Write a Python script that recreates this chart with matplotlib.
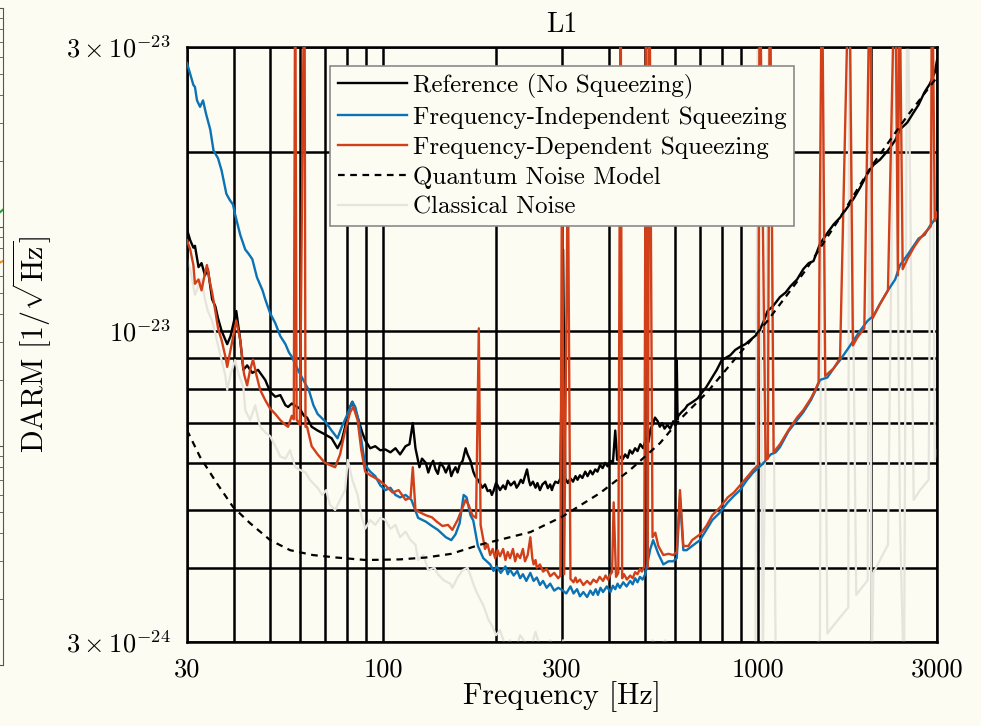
import matplotlib
matplotlib.use("Agg")
import matplotlib.pyplot as plt
from matplotlib.ticker import NullFormatter, FixedLocator

plt.rcParams['font.family'] = ['cmr10', 'DejaVu Serif']
plt.rcParams['mathtext.fontset'] = 'cm'
plt.rcParams['axes.formatter.use_mathtext'] = True

SCALE = 1e-24  # amplitudes below are in units of 1e-24 1/sqrt(Hz)

# Reference (no squeezing)
ref_f = [30, 30.6, 31.2, 31.5, 32.2, 32.8, 33.5, 34.1, 35.0, 35.7,
         36.3, 37.1, 38.4, 39.2, 40.6, 41.6, 42.4, 43.4, 44.8, 46.4,
         48.5, 50.0, 51.6, 53.2, 54.9, 55.8, 57.1, 60.0, 61.5, 62.7,
         64.5, 66.9, 70.0, 72.9, 75.6, 77.6, 79.2, 81.2, 82.8, 84.3,
         86.0, 88.0, 89.6, 92.4, 95.3, 98.3, 101.4, 104.6, 107.9, 111,
         114.8, 117.6,
         120, 122, 125, 127, 130, 132, 134, 136, 138, 140,
         142, 145, 147, 150, 152, 154, 156, 158, 160, 163,
         166, 168, 171, 174, 176, 179, 181, 184, 187, 190,
         193, 195, 197, 200, 202, 205, 209, 212, 215, 219,
         224, 227, 230, 233, 236, 239, 242, 245, 247, 251,
         255, 258, 262, 266, 271, 275, 279, 282, 284, 288,
         293, 297, 302, 306, 311, 316, 321, 326, 330, 335,
         340, 346, 351, 357, 362, 368, 373, 379, 385, 391,
         397, 404, 410, 416, 421, 428, 435, 442, 449, 455,
         462, 470, 477, 485, 494, 502, 510, 517, 523, 531,
         540, 547, 555, 563, 573, 583, 594, 603, 607, 610,
         613, 625, 639, 648, 659, 670, 680, 690, 700,
         728, 750, 776, 800, 843, 869, 895, 925, 953, 1000,
         1030, 1060, 1095, 1144, 1184, 1222, 1270, 1320, 1365, 1405,
         1462, 1530, 1590, 1654, 1740, 1800, 1870, 1960, 2030, 2114,
         2220, 2320, 2390, 2500, 2600, 2680, 2780, 2870, 2960, 3000]
ref_a = [14.8, 14.2, 13.8, 13.9, 12.8, 13.0, 12.4, 12.7, 11.3, 11.0,
         10.5, 10.0, 9.5, 9.8, 10.8, 9.65, 8.6, 8.75, 8.5, 8.6,
         8.27, 7.9, 7.75, 7.8, 7.5, 7.45, 7.55, 7.4, 7.2, 7.15,
         6.9, 6.8, 6.7, 6.6, 6.35, 6.55, 6.9, 7.4, 7.6, 7.35,
         7.08, 6.75, 6.55, 6.35, 6.4, 6.3, 6.32, 6.25, 6.35, 6.2,
         6.4, 6.45,
         7.0, 6.35, 5.9, 6.1, 6.0, 5.78, 5.95, 6.05, 5.85, 5.75,
         6.0, 5.9, 5.78, 5.95, 5.7, 5.82, 5.9, 5.78, 5.95, 6.05,
         6.35, 6.2, 6.05, 5.8, 5.7, 5.62, 5.55, 5.45, 5.52, 5.38,
         5.4, 5.3, 5.38, 5.55, 5.5, 5.4, 5.5, 5.42, 5.6, 5.5,
         5.58, 5.45, 5.52, 5.62, 5.55, 5.7, 5.85, 5.6, 5.5, 5.58,
         5.45, 5.55, 5.4, 5.52, 5.58, 5.44, 5.52, 5.4, 5.48, 5.58,
         5.55, 5.65, 13.7, 5.65, 5.55, 5.65, 5.58, 5.7, 5.62, 5.72,
         5.66, 5.8, 5.7, 5.82, 5.74, 5.85, 5.8, 5.95, 5.88, 6.0,
         5.92, 6.05, 6.0, 6.8, 6.07, 6.15, 6.08, 6.2, 6.12, 6.3,
         6.22, 6.35, 6.28, 6.45, 6.35, 6.6, 6.5, 6.85, 6.95, 7.15,
         7.05, 6.9, 7.0, 6.85, 6.95, 6.85, 7.05, 6.95, 8.93, 7.1,
         7.2, 7.3, 7.4, 7.5, 7.55, 7.6, 7.65, 7.7, 7.8,
         8.05, 8.3, 8.6, 8.93, 9.1, 9.29, 9.4, 9.5, 9.65, 9.9,
         10.3, 10.8, 11.0, 11.4, 11.6, 11.9, 12.2, 12.7, 13.0, 13.1,
         14.0, 14.6, 15.1, 15.5, 16.2, 16.7, 17.4, 18.4, 19.0, 19.4,
         20.1, 20.9, 21.8, 22.4, 23.3, 24.0, 25.2, 26.0, 27.2, 28.5]

# Frequency-independent squeezing
fis_f = [30, 30.6, 31.2, 31.5, 31.9, 32.5, 33.1, 33.7, 34.6, 35.3,
         36.3, 37.1, 38.2, 39.0, 39.8, 40.3, 41.6, 42.9, 43.7, 44.8,
         46.1, 47.7, 48.5, 50, 51.6, 53.2, 54.9, 56.1, 57.1, 58.3,
         59.3, 61.7, 63.4, 65.2, 66.9, 70, 72.9, 75.6, 77.6, 80,
         82.8, 84.3, 86, 88, 89.6, 92.4, 95.3, 98.3, 101.4, 104.6,
         107.9, 111, 114.8, 119, 124, 130, 135, 140, 147, 152,
         156, 160, 164, 167, 171, 174, 179, 185,
         193, 197, 201, 206, 212, 215, 218, 223, 228, 232,
         236, 241, 247, 252, 257, 262, 267, 273, 279, 286,
         293, 300, 308, 316, 322, 329, 335, 342, 350, 357,
         363, 369, 374, 380, 386, 395, 404, 410, 416, 422,
         428, 437, 446, 456, 463, 470, 477, 484, 492, 500,
         516, 525, 542, 559, 577, 594, 607, 619, 632, 645,
         667, 700, 728, 755, 791, 830, 862, 895, 935, 970,
         1000, 1035, 1080, 1114, 1144, 1205, 1270, 1320, 1383, 1426,
         1462, 1530, 1590, 1654, 1740, 1800, 1870, 1960, 2030, 2114,
         2220, 2320, 2390, 2500, 2600, 2680, 2780, 2870, 2960, 3000]
fis_a = [28.2, 27.0, 25.9, 25.7, 24.4, 23.8, 24.4, 23.2, 21.8, 20.1,
         19.5, 18.6, 17.0, 16.6, 16.3, 15.7, 14.5, 13.7, 13.5, 13.2,
         12.3, 11.7, 11.3, 10.7, 10.3, 9.8, 9.5, 9.2, 9.05, 8.8,
         8.6, 8.2, 7.95, 7.5, 7.25, 7.05, 6.8, 6.6, 6.9, 7.2,
         7.6, 7.45, 7.08, 6.4, 5.95, 5.8, 5.7, 5.5, 5.4, 5.45,
         5.3, 5.25, 5.3, 5.2, 4.85, 4.78, 4.7, 4.63, 4.5, 4.45,
         4.55, 4.75, 5.3, 5.25, 4.9, 4.8, 4.35, 4.15,
         4.05, 3.95, 4.02, 3.92, 4.02, 3.9, 3.97, 3.88, 3.95, 3.84,
         3.9, 3.8, 3.92, 3.8, 3.85, 3.74, 3.8, 3.7, 3.76, 3.66,
         3.7, 3.67, 3.62, 3.72, 3.62, 3.68, 3.58, 3.64, 3.57, 3.66,
         3.6, 3.68, 3.6, 3.7, 3.64, 3.72, 3.64, 3.73, 3.68, 3.76,
         3.7, 3.78, 3.72, 3.8, 3.75, 3.84, 3.78, 3.86, 3.82, 3.9,
         4.3, 4.45, 4.22, 4.05, 4.1, 4.1, 4.15, 5.25, 4.28, 4.28,
         4.35, 4.45, 4.63, 4.81, 4.95, 5.15, 5.28, 5.4, 5.62, 5.78,
         5.88, 6.0, 6.2, 6.25, 6.38, 6.78, 7.08, 7.3, 7.65, 7.96,
         8.27, 8.35, 8.65, 8.93, 9.35, 9.65, 10.0, 10.4, 10.6, 11.1,
         11.7, 12.2, 12.9, 13.4, 13.9, 14.3, 14.5, 15.0, 15.4, 15.8]

# Frequency-dependent squeezing
fds_f = [30, 30.6, 31.2, 31.5, 32.2, 32.8, 33.5, 33.9, 34.6, 35.0,
         35.7, 36.3, 37.1, 37.9, 38.4, 39.2, 40.6, 41.6, 42.6, 43.4,
         44.2, 45.0, 45.9, 47.0, 48.5, 50, 51.6, 53.2, 54.9, 55.8,
         57.1, 57.8, 58.3, 58.8, 60, 61.7, 62.1, 62.7, 64.5, 66.9,
         70, 72.2, 74.5, 76.8, 79.2, 81.7, 83.3, 85.5, 87.5, 89.6,
         92.4, 97.2, 101.4, 106, 110, 114.8, 118.4, 120, 122, 125,
         130, 135, 139, 144, 149, 153, 158, 162, 166, 169,
         173, 177, 180, 182,
         187, 190, 193, 196, 199, 202, 205, 209, 212, 215,
         218, 222, 225, 228, 232, 236, 239, 243, 247, 250,
         252, 255, 257, 262, 267, 273, 279, 286, 293, 297,
         300, 304, 311, 316, 322, 326, 329, 335, 342, 350,
         357, 364, 371, 378, 386, 392, 398, 404, 408, 412,
         418, 424, 430, 434, 439, 447, 456, 463, 470, 477,
         484, 490, 497,
         503, 508, 513, 523, 532, 542, 559, 577, 594, 607,
         619, 632, 652, 667, 700, 728, 755, 791, 830, 862,
         895, 935, 970, 1000, 1010, 1047, 1062, 1075, 1100, 1144,
         1205, 1270, 1320, 1383, 1426, 1450, 1480, 1510, 1590, 1654,
         1750, 1790, 1840, 1920, 1990, 2020, 2114, 2220, 2320, 2360,
         2380, 2430, 2500, 2600, 2680, 2780, 2890, 2910, 2960, 3000]
fds_a = [14.2, 13.7, 12.9, 12.0, 12.2, 11.7, 12.5, 12.9, 12.0, 11.6,
         10.8, 10.1, 9.65, 9.1, 8.7, 9.29, 10.4, 9.65, 8.45, 8.1,
         8.6, 8.95, 8.45, 7.96, 7.65, 7.4, 7.25, 7.08, 6.95, 6.9,
         7.2, 7.1, 45, 7.1, 6.95, 45, 6.9, 6.9, 6.4, 6.2,
         6.0, 5.95, 5.9, 6.2, 6.8, 7.3, 7.45, 7.08, 6.3, 5.8,
         5.72, 5.62, 5.5, 5.35, 5.4, 5.2, 5.25, 5.9, 5.0, 4.96,
         4.9, 4.86, 4.78, 4.7, 4.72, 4.63, 4.81, 5.0, 5.2, 5.1,
         4.9, 4.85, 10.1, 4.72,
         4.3, 4.38, 4.2, 4.3, 4.15, 4.28, 4.18, 4.3, 4.12, 4.25,
         4.15, 4.3, 4.1, 4.22, 4.15, 4.3, 4.1, 4.2, 4.5, 4.15,
         4.05, 4.12, 4.0, 4.05, 3.94, 3.98, 3.87, 3.92, 3.84, 3.88,
         20, 3.9, 20, 3.83, 3.78, 3.85, 3.78, 3.82, 3.74, 3.8,
         3.75, 3.82, 3.78, 3.86, 3.8, 3.88, 3.82, 3.9, 3.93, 5.15,
         3.86, 3.92, 45, 3.84, 3.9, 3.82, 3.88, 3.84, 3.93, 3.9,
         3.98, 3.94, 4.02,
         45, 4.0, 45, 4.5, 4.58, 4.35, 4.2, 4.22, 4.2, 4.25,
         5.4, 4.35, 4.35, 4.45, 4.55, 4.7, 4.9, 5.05, 5.25, 5.35,
         5.5, 5.68, 5.84, 5.95, 45, 6.07, 6.1, 45, 6.25, 6.45,
         6.81, 7.15, 7.36, 7.7, 8.0, 8.2, 45, 8.4, 8.65, 9.0,
         45, 9.45, 9.75, 10.1, 45, 10.5, 11.1, 11.7, 45, 12.4,
         45, 12.7, 13.2, 13.8, 14.2, 14.6, 15.0, 45, 15.3, 15.8]

# Quantum noise model
qn_f = [30, 32.5, 36, 39.8, 44.2, 50, 56.5, 65, 75, 90,
        111, 130, 152, 181, 247, 300, 379, 456, 548, 619,
        728, 895, 1060, 1340, 1654, 2005, 2490, 2960, 3000]
qn_a = [6.81, 6.14, 5.55, 5.06, 4.75, 4.45, 4.28, 4.2, 4.16, 4.12,
        4.13, 4.16, 4.22, 4.37, 4.59, 4.87, 5.34, 5.84, 6.48, 7.1,
        7.86, 9.18, 10.4, 12.65, 15.5, 18.9, 22.9, 26.4, 26.8]

# Classical noise
cl_f = [30, 30.6, 31.5, 32.2, 32.8, 33.5, 34.1, 35.0, 35.7, 36.3,
        37.1, 37.9, 38.4, 39.2, 40.3, 41.2, 42.4, 42.9, 44.2, 45.6,
        47, 48.5, 50, 51.6, 53.2, 54.9, 56.5, 58.3, 60, 62.1,
        63.8, 65.9, 66.9, 68.8, 70.5, 72.2, 74.5, 76.8, 79.2, 80.5,
        82.8, 85.5, 87.5, 89.6, 92.4, 95.3, 98.3, 101.4, 104.6, 107.9,
        111, 114.8, 118.4, 122, 124, 128, 132, 137, 140, 145,
        151, 153, 158, 163, 168, 171, 175, 179, 185, 191,
        196, 200, 205, 212, 218, 225, 232, 239, 247, 255,
        262, 271, 279, 290, 297, 302, 312, 319, 331, 346,
        361, 379, 396, 412, 428, 450, 470, 484, 503, 523,
        542, 566, 590, 619, 652, 680, 723, 770, 817, 869,
        925, 984, 1000, 1030, 1075, 1114, 1184, 1260, 1340, 1400,
        1462, 1480, 1530, 1590, 1654, 1740, 1750, 1827, 1870, 1960,
        1990, 2005, 2030, 2114, 2220, 2320, 2390, 2450, 2500, 2600,
        2703, 2850, 2910, 2960, 3000]
cl_a = [13.2, 12.7, 11.5, 11.9, 12.2, 11.3, 10.8, 10.4, 9.9, 9.45,
        8.93, 8.45, 7.96, 8.45, 8.93, 8.45, 8.05, 7.36, 7.08, 7.5,
        6.9, 6.75, 6.65, 6.4, 6.15, 6.1, 6.3, 5.9, 5.84, 5.78,
        5.62, 5.5, 5.45, 5.3, 5.4, 5.1, 5.0, 5.2, 5.4, 6.07,
        5.62, 5.3, 4.9, 4.65, 4.81, 4.72, 4.85, 4.81, 4.65, 4.72,
        4.5, 4.6, 4.45, 4.37, 4.12, 4.2, 3.96, 4.0, 3.9, 3.81,
        3.76, 3.7, 3.85, 3.96, 4.0, 3.88, 3.72, 3.6, 3.46, 3.27,
        3.18, 3.08, 3.14, 2.95, 3.02, 2.9, 3.08, 3.0, 2.9, 3.12,
        2.95, 2.85, 3.02, 2.9, 2.5, 3.02, 2.5, 2.95, 2.88, 2.92,
        2.85, 2.9, 2.8, 2.95, 2.85, 2.8, 2.95, 2.85, 2.8, 3.02,
        2.93, 3.02, 2.85, 2.5, 2.8, 2.7, 2.75, 2.65, 2.72, 2.65,
        2.75, 2.8, 45, 2.75, 45, 2.85, 2.8, 2.9, 2.85, 2.95,
        3.02, 45, 3.1, 3.2, 3.3, 3.43, 45, 3.6, 3.67, 3.81,
        45, 2.5, 3.92, 4.12, 4.37, 45, 4.81, 2.5, 45, 5.2,
        5.4, 5.62, 45, 6.07, 6.3]

# fragment of the neighbouring panel at the left edge
side_x = [0.90, 0.95, 1.0]
side_green = [1.25e-22, 1.05e-22, 1.2e-22]
side_orange = [7.5e-23, 6.4e-23, 7.0e-23]

labels = ['Reference (No Squeezing)', 'Frequency-Independent Squeezing',
          'Frequency-Dependent Squeezing', 'Quantum Noise Model', 'Classical Noise']

bg = '#fcfcf2'
c_ref = 'black'
c_fis = '#0a72b5'
c_fds = '#d2401a'
c_cl = '#e6e4dc'

fig = plt.figure(figsize=(9.81, 7.26), dpi=100, facecolor=bg)
ax = fig.add_axes([187 / 981, 1 - 642 / 726, 750 / 981, 595 / 726])
ax.set_facecolor(bg)

sc = lambda a: [v * SCALE for v in a]
l_cl, = ax.plot(cl_f, sc(cl_a), color=c_cl, lw=1.6, zorder=2)
l_ref, = ax.plot(ref_f, sc(ref_a), color=c_ref, lw=1.7, zorder=3)
l_fis, = ax.plot(fis_f, sc(fis_a), color=c_fis, lw=1.7, zorder=4)
l_fds, = ax.plot(fds_f, sc(fds_a), color=c_fds, lw=1.7, zorder=5)
l_qn, = ax.plot(qn_f, sc(qn_a), color='black', lw=1.6, ls=(0, (3, 2.5)), zorder=6)

ax.set_xscale('log')
ax.set_yscale('log')
ax.set_xlim(30, 3000)
ax.set_ylim(3e-24, 3e-23)

ax.set_xticks([30, 100, 300, 1000, 3000])
ax.set_xticklabels(['30', '100', '300', '1000', '3000'])
ax.set_yticks([3e-24, 1e-23, 3e-23])
ax.set_yticklabels([r'$3\times10^{-24}$', r'$10^{-23}$', r'$3\times10^{-23}$'])
ax.xaxis.set_minor_locator(FixedLocator([40, 50, 60, 70, 80, 90, 200, 400, 500, 600,
                                         700, 800, 900, 2000]))
ax.yaxis.set_minor_locator(FixedLocator([4e-24, 5e-24, 6e-24, 7e-24, 8e-24, 9e-24, 2e-23]))
ax.xaxis.set_minor_formatter(NullFormatter())
ax.yaxis.set_minor_formatter(NullFormatter())
ax.tick_params(which='both', length=0, labelsize=19)
ax.tick_params(axis='x', pad=11)
ax.tick_params(axis='y', pad=12)

ax.grid(True, which='both', color='black', lw=1.8)
ax.set_axisbelow(True)
for s in ax.spines.values():
    s.set_linewidth(1.8)

ax.set_xlabel('Frequency [Hz]', fontsize=21.5, labelpad=0)
ax.set_ylabel(r'DARM $[1/\sqrt{\mathrm{Hz}}]$', fontsize=21.5, labelpad=8)
ax.set_title('L1', fontsize=20, pad=11)

leg = ax.legend([l_ref, l_fis, l_fds, l_qn, l_cl], labels,
                loc='upper left', bbox_to_anchor=(0.1907, 0.968), borderaxespad=0,
                fontsize=18, handlelength=2.76, handletextpad=0.25, labelspacing=0.3,
                borderpad=0.3, fancybox=False, framealpha=1, facecolor=bg,
                edgecolor='#8a8a8a')
leg.get_frame().set_linewidth(1.2)
leg.set_zorder(10)

# neighbouring panel sliver
side = fig.add_axes([-0.3, 1 - 665 / 726, 0.3 + 3 / 981, 657 / 726])
side.set_facecolor('none')
side.set_yscale('log')
side.set_ylim(1e-24, 1e-21)
side.set_xlim(0, 1)
for s in ['left', 'top', 'bottom']:
    side.spines[s].set_visible(False)
side.spines['right'].set_color('#555555')
side.spines['right'].set_linewidth(0.8)
side.yaxis.tick_right()
side.set_xticks([])
side.tick_params(axis='y', which='both', direction='in', length=6, color='#555555',
                 labelright=False)
side.plot(side_x, side_green, color='#2ca02c', lw=1.5)
side.plot(side_x, side_orange, color='#ff8c1a', lw=1.5)

fig.savefig('out.png', dpi=100, facecolor=bg)
